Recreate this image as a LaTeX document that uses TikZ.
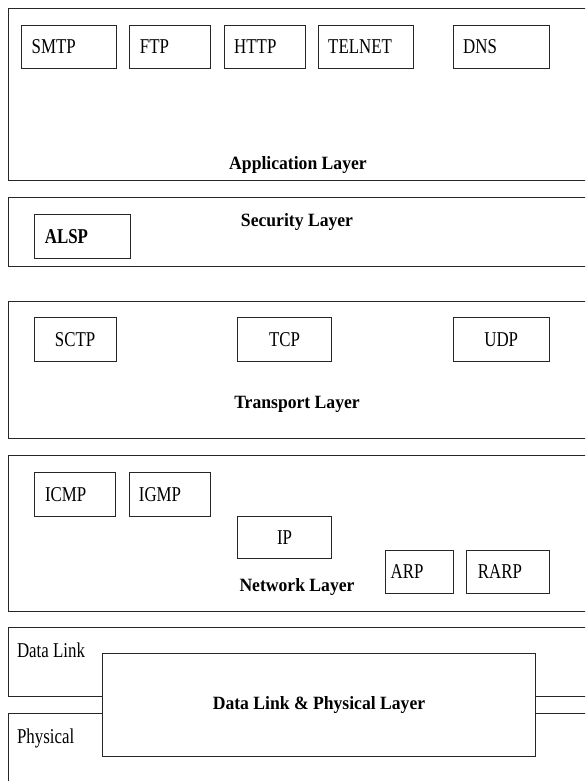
\documentclass[tikz,border=0pt]{standalone}
\usepackage{fontspec}
\setmainfont{Liberation Serif}
\newfontfamily\protofont[FakeStretch=0.8]{Liberation Serif}
\newfontfamily\layerfont[FakeStretch=0.94]{Liberation Serif}
\usepackage{tikz}

\begin{document}
\begin{tikzpicture}[
    x=0.03cm, y=-0.03cm,
    layer/.style={draw=black!85, line width=0.85pt, inner sep=0pt, anchor=north west, minimum width=600*0.03cm},
    proto/.style={draw=black!85, line width=0.85pt, inner sep=0pt, anchor=north west, font=\protofont\fontsize{18}{20}\selectfont},
    protolabel/.style={anchor=west, inner sep=0pt, font=\protofont\fontsize{18}{20}\selectfont},
    layername/.style={anchor=base, inner sep=0pt, font=\layerfont\bfseries\fontsize{16}{18}\selectfont}
]

\newcommand{\protocol}[7]{
    \node[proto, minimum width=#4*0.03cm, minimum height=#5*0.03cm] (#1) at (#2,#3) {};
    \node[protolabel] (#1-txt) at ([xshift=#6*0.03cm]#1.west) {#7};
}

\clip (0,0) rectangle (585,781);

% application layer
\node[layer, minimum height=172*0.03cm] (app) at (8,8) {};
\protocol{smtp}{20.5}{25}{95}{43}{11}{SMTP}
\protocol{ftp}{128.7}{25}{81.3}{43}{11}{FTP}
\protocol{http}{224}{25}{81}{43}{10}{HTTP}
\protocol{telnet}{318}{25}{95}{43}{10}{TELNET}
\protocol{dns}{453}{25}{95.5}{43}{10}{DNS}
\node[layername] (app-name) at (298,169) {Application Layer};

% security layer
\node[layer, minimum height=69*0.03cm] (sec) at (8,197) {};
\protocol{alsp}{33.6}{214}{96}{44}{11}{\bfseries ALSP}
\node[layername] (sec-name) at (297,226) {Security Layer};

% transport layer
\node[layer, minimum height=137*0.03cm] (trans) at (8,301) {};
\node[proto, minimum width=82*0.03cm, minimum height=44*0.03cm] (sctp) at (33.6,317) {SCTP};
\node[proto, minimum width=94*0.03cm, minimum height=44*0.03cm] (tcp) at (237,317) {TCP};
\node[proto, minimum width=95.5*0.03cm, minimum height=44*0.03cm] (udp) at (453,317) {UDP};
\node[layername] (trans-name) at (297,408) {Transport Layer};

% network layer
\node[layer, minimum height=156*0.03cm] (net) at (8,455) {};
\protocol{icmp}{34.3}{472}{81}{44}{10.5}{ICMP}
\protocol{igmp}{128.7}{472}{81.3}{44}{10}{IGMP}
\node[proto, minimum width=94*0.03cm, minimum height=42*0.03cm] (ip) at (237,516) {IP};
\protocol{arp}{385.4}{550}{67.6}{43}{5}{ARP}
\protocol{rarp}{466}{550}{82.5}{43}{11.6}{RARP}
\node[layername] (net-name) at (297,591) {Network Layer};

% data link + physical
\node[layer, minimum height=69*0.03cm] (dl) at (8,627) {};
\node[layer, minimum height=100*0.03cm] (phy) at (8,713) {};
\node[protolabel, anchor=base west] (dl-txt) at (16.8,657) {Data Link};
\node[protolabel, anchor=base west] (phy-txt) at (16.8,743) {Physical};
\node[proto, fill=white, minimum width=433*0.03cm, minimum height=103*0.03cm,
      font=\layerfont\bfseries\fontsize{16}{18}\selectfont] (dlphy) at (102,653) {Data Link \& Physical Layer};

\end{tikzpicture}
\end{document}
